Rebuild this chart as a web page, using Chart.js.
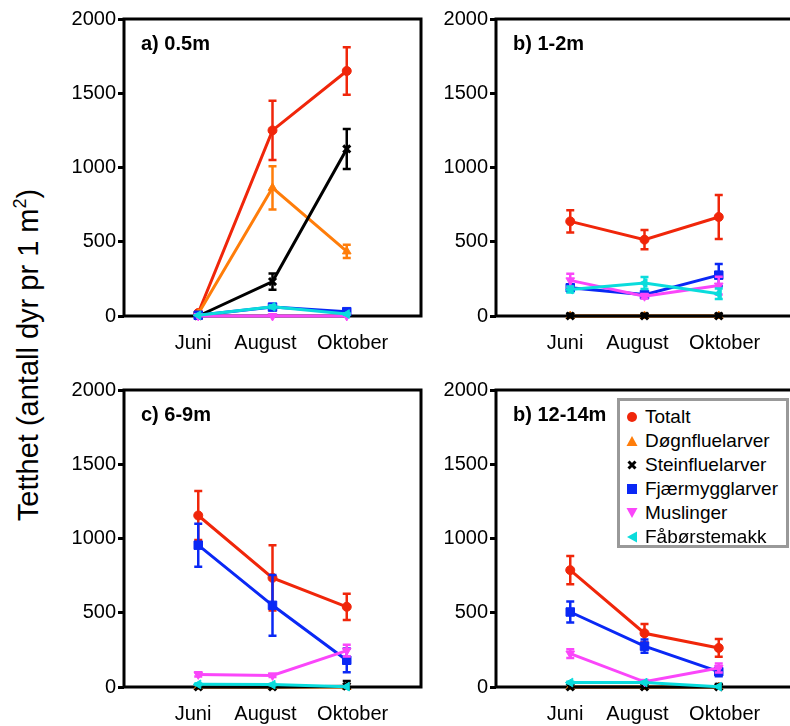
<!DOCTYPE html>
<html>
<head>
<meta charset="utf-8">
<script src="https://cdn.jsdelivr.net/npm/chart.js@4.4.1/dist/chart.umd.min.js"></script>
<style>
  html, body { margin: 0; padding: 0; background: #fff; }
  body { width: 790px; height: 726px; position: relative; overflow: hidden; font-family: "Liberation Sans", Arial, sans-serif; }
  .panel { position: absolute; }
  .ptitle { position: absolute; font-weight: bold; font-size: 20px; color: #000; white-space: nowrap; }
  #ytitle { position: absolute; left: 28px; top: 355px; transform: translate(-50%, -50%) rotate(-90deg); font-size: 29px; white-space: nowrap; color: #000; }
  #ytitle sup { font-size: 18px; vertical-align: 12px; line-height: 0; }
  #legend { position: absolute; left: 617px; top: 398px; width: 166px; height: 144px; border: 3px solid #999; background: #fff; overflow: visible; }
  .lrow { position: absolute; left: 6px; height: 24px; line-height: 24px; font-size: 19px; white-space: nowrap; }
  .lrow svg { position: absolute; left: 0; top: 6px; }
  .lrow span { position: absolute; left: 19px; top: 0; }
</style>
</head>
<body>
<div id="ytitle">Tetthet (antall dyr pr 1 m<sup>2</sup>)</div>

<script>
const months = ["Juni", "August", "Oktober"];
const panelTitles = ["a) 0.5m", "b) 1-2m", "c) 6-9m", "b) 12-14m"];
const seriesNames = ["Totalt", "Døgnfluelarver", "Steinfluelarver", "Fjærmygglarver", "Muslinger", "Fåbørstemakk"];
const yTicks = [0, 500, 1000, 1500, 2000];

// one row per panel (a, b, c, d); values for Juni, August, Oktober
const totalt          = [[20, 1250, 1650], [637, 514, 667], [1155, 735, 540], [787, 362, 263]];
const totaltErr       = [[10, 200, 160], [75, 65, 148], [165, 220, 88], [95, 62, 60]];
const dogn            = [[15, 863, 435], [0, 0, 0], [0, 0, 0], [0, 0, 0]];
const dognErr         = [[5, 145, 45], [0, 0, 0], [0, 0, 0], [0, 0, 0]];
const stein           = [[0, 232, 1125], [0, 0, 0], [0, 0, 5], [0, 0, 0]];
const steinErr        = [[0, 55, 135], [15, 15, 15], [0, 0, 35], [0, 0, 20]];
const fjaermygg       = [[5, 60, 29], [190, 144, 275], [955, 550, 180], [505, 275, 103]];
const fjaermyggErr    = [[0, 10, 15], [20, 15, 75], [145, 205, 80], [70, 45, 30]];
const muslinger       = [[0, 0, 0], [240, 133, 205], [85, 78, 245], [225, 35, 128]];
const muslingerErr    = [[0, 0, 0], [45, 15, 60], [15, 10, 40], [30, 5, 30]];
const faborstemakk    = [[5, 62, 13], [178, 222, 150], [18, 16, 2], [30, 30, 2]];
const faborstemakkErr = [[0, 10, 5], [20, 40, 35], [5, 5, 0], [5, 5, 0]];

const seriesValues = [totalt, dogn, stein, fjaermygg, muslinger, faborstemakk];
const seriesErrors = [totaltErr, dognErr, steinErr, fjaermyggErr, muslingerErr, faborstemakkErr];

const colors = ["rgb(240,38,10)", "rgb(255,125,10)", "rgb(0,0,0)", "rgb(10,40,245)", "rgb(250,70,250)", "rgb(10,220,220)"];
const pointStyles = ["circle", "triangle", "crossRot", "rect", "triangle", "triangle"];
const pointRotations = [0, 0, 0, 0, 180, -90];
const pointRadii = [4.5, 5, 5, 6, 5, 5];
// month labels in the original sit a little off their data points
const labelNudge = [-0.07, -0.095, 0.08];

const panelPos = [
  { left: 124, top: 19 },
  { left: 496, top: 19 },
  { left: 124, top: 390 },
  { left: 496, top: 390 },
];
const AREA = 297, YW = 84, XH = 45, PADR = 12;

// frame under the data, error bars through the y scale
const errorBarPlugin = {
  id: "errorBars",
  beforeDatasetsDraw(chart) {
    const a = chart.chartArea;
    const ctx = chart.ctx;
    ctx.save();
    ctx.strokeStyle = "#000";
    ctx.lineWidth = 3;
    ctx.strokeRect(a.left, a.top, a.right - a.left, a.bottom - a.top);
    ctx.restore();
  },
  afterDatasetDraw(chart, args) {
    const ds = chart.data.datasets[args.index];
    if (!ds.errors) return;
    const meta = args.meta;
    const ys = chart.scales.y;
    const ctx = chart.ctx;
    ctx.save();
    ctx.strokeStyle = ds.borderColor;
    ctx.lineWidth = 2.5;
    meta.data.forEach((pt, i) => {
      const e = ds.errors[i];
      if (!e) return;
      const v = ds.data[i].y;
      const yTop = ys.getPixelForValue(v + e);
      const yBot = ys.getPixelForValue(Math.max(0, v - e));
      const x = pt.x;
      ctx.beginPath();
      ctx.moveTo(x, yTop); ctx.lineTo(x, yBot);
      ctx.moveTo(x - 4, yTop); ctx.lineTo(x + 4, yTop);
      ctx.moveTo(x - 4, yBot); ctx.lineTo(x + 4, yBot);
      ctx.stroke();
    });
    ctx.restore();
  },
};

function makePanel(p) {
  const pos = panelPos[p];
  const wrap = document.createElement("div");
  wrap.className = "panel";
  wrap.style.left = (pos.left - YW) + "px";
  wrap.style.top = (pos.top - 19) + "px";
  wrap.style.width = (YW + AREA + PADR) + "px";
  wrap.style.height = (19 + AREA + XH) + "px";
  const canvas = document.createElement("canvas");
  wrap.appendChild(canvas);
  document.body.appendChild(wrap);

  const title = document.createElement("div");
  title.className = "ptitle";
  title.textContent = panelTitles[p];
  title.style.left = (pos.left + 17) + "px";
  title.style.top = (pos.top + 13) + "px";
  document.body.appendChild(title);

  const datasets = seriesNames.map((name, s) => ({
    label: name,
    data: months.map((m, i) => ({ x: i + 1, y: seriesValues[s][p][i] })),
    errors: seriesErrors[s][p],
    borderColor: colors[s],
    backgroundColor: colors[s],
    borderWidth: 3,
    pointStyle: pointStyles[s],
    pointRotation: pointRotations[s],
    pointRadius: pointRadii[s],
    pointBorderWidth: s === 2 ? 3 : 1,
    tension: 0,
    clip: false,
    order: seriesNames.length - s,
  }));

  new Chart(canvas, {
    type: "line",
    data: { datasets },
    options: {
      responsive: true,
      maintainAspectRatio: false,
      animation: false,
      layout: { padding: { top: 19, right: PADR, left: 0, bottom: 0 } },
      plugins: { legend: { display: false }, tooltip: { enabled: false } },
      scales: {
        x: {
          type: "linear",
          min: 0,
          max: 4,
          afterBuildTicks: (sc) => { sc.ticks = months.map((m, i) => ({ value: i + 1 + labelNudge[i] })); },
          ticks: {
            callback: (v, i) => months[i] || "",
            color: "#000",
            font: { size: 20, family: "Liberation Sans" },
            padding: 7,
            maxRotation: 0,
            autoSkip: false,
          },
          grid: { display: false },
          border: { display: false },
          afterFit: (sc) => { sc.height = XH; },
        },
        y: {
          min: 0,
          max: 2000,
          afterBuildTicks: (sc) => { sc.ticks = yTicks.map((v) => ({ value: v })); },
          ticks: {
            callback: (v) => String(v),
            color: "#000",
            font: { size: 20, family: "Liberation Sans" },
            padding: 2,
          },
          grid: { drawOnChartArea: false, drawTicks: true, tickLength: 6, lineWidth: 3, color: "#000" },
          border: { display: false },
          afterFit: (sc) => { sc.width = YW; },
        },
      },
    },
    plugins: [errorBarPlugin],
  });
}

for (let p = 0; p < 4; p++) makePanel(p);

// legend box inside panel d
const markerSvgs = [
  '<circle cx="6" cy="6" r="5"/>',
  '<polygon points="6,1 11.5,11 0.5,11"/>',
  '<path d="M2.5,2.5 L9.5,9.5 M9.5,2.5 L2.5,9.5" stroke-width="3" stroke="COLOR" fill="none"/>',
  '<rect x="1" y="1" width="10" height="10"/>',
  '<polygon points="0.5,1 11.5,1 6,11"/>',
  '<polygon points="11,0.5 11,11.5 1,6"/>',
];
const legend = document.createElement("div");
legend.id = "legend";
seriesNames.forEach((name, s) => {
  const row = document.createElement("div");
  row.className = "lrow";
  row.style.top = (4 + s * 24) + "px";
  row.innerHTML = '<svg width="12" height="12" fill="' + colors[s] + '">' +
    markerSvgs[s].replace("COLOR", colors[s]) + '</svg><span></span>';
  row.querySelector("span").textContent = name;
  legend.appendChild(row);
});
document.body.appendChild(legend);
</script>
</body>
</html>
